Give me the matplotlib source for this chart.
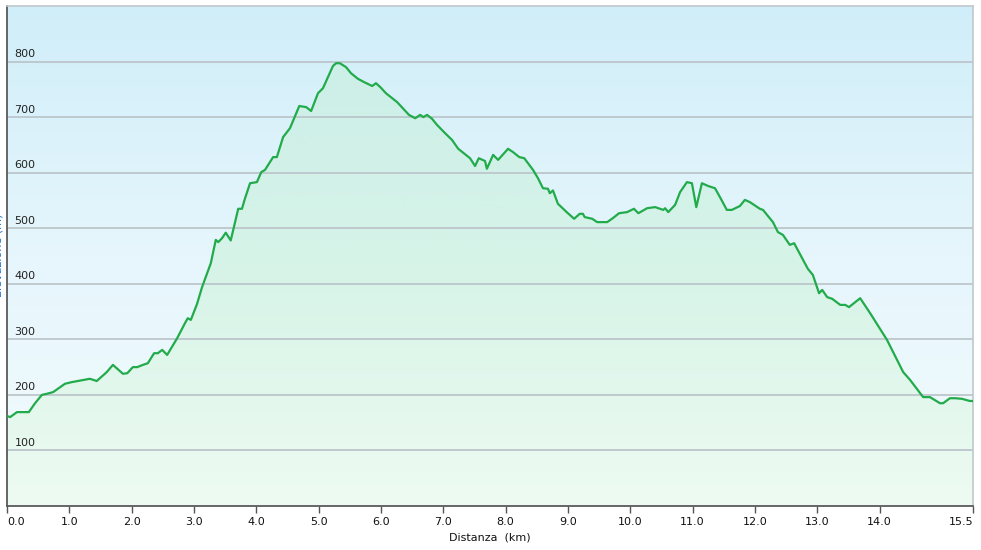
import numpy as np
import matplotlib.pyplot as plt
from matplotlib.colors import LinearSegmentedColormap

km = [0.00, 0.05, 0.16, 0.35, 0.45, 0.56, 0.64, 0.74, 0.93, 1.04, 1.14, 1.33, 1.44,
      1.60, 1.70, 1.86, 1.93, 2.02, 2.09, 2.18, 2.26, 2.36, 2.42, 2.49, 2.57, 2.73,
      2.86, 2.90, 2.95, 3.05, 3.13, 3.23, 3.27, 3.35, 3.39, 3.45, 3.51, 3.59, 3.71,
      3.77, 3.82, 3.90, 4.01, 4.08, 4.14, 4.27, 4.33, 4.43, 4.54, 4.69, 4.80, 4.88,
      4.99, 5.07, 5.23, 5.28, 5.34, 5.44, 5.52, 5.63, 5.73, 5.86, 5.92, 5.99, 6.08,
      6.26, 6.45, 6.55, 6.63, 6.68, 6.74, 6.82, 6.90, 7.03, 7.14, 7.24, 7.43, 7.51,
      7.57, 7.67, 7.70, 7.80, 7.88, 8.04, 8.12, 8.22, 8.30, 8.44, 8.52, 8.60, 8.68,
      8.71, 8.76, 8.84, 8.99, 9.10, 9.19, 9.24, 9.27, 9.39, 9.47, 9.63, 9.72, 9.82,
      9.95, 10.06, 10.13, 10.27, 10.40, 10.48, 10.53, 10.56, 10.61, 10.72, 10.80,
      10.91, 10.99, 11.06, 11.15, 11.25, 11.36, 11.44, 11.55, 11.63, 11.76, 11.84,
      11.92, 12.08, 12.13, 12.24, 12.29, 12.37, 12.45, 12.56, 12.63, 12.76, 12.85,
      12.93, 13.03, 13.08, 13.16, 13.24, 13.37, 13.45, 13.51, 13.69, 13.85, 14.12,
      14.38, 14.49, 14.70, 14.81, 14.97, 15.02, 15.13, 15.21, 15.32, 15.45, 15.50]
quota = [162, 160, 169, 169, 185, 200, 202, 205, 220, 223, 225, 229, 225,
         241, 254, 238, 239, 250, 250, 254, 257, 275, 275, 281, 272, 302,
         330, 338, 335, 364, 394, 425, 437, 479, 475, 482, 492, 478, 535,
         535, 554, 581, 583, 601, 605, 628, 628, 664, 680, 720, 718, 711,
         743, 752, 792, 797, 797, 790, 779, 769, 763, 756, 761, 754, 743,
         727, 704, 698, 704, 700, 704, 697, 686, 671, 659, 643, 626, 612,
         626, 621, 607, 632, 623, 643, 637, 628, 626, 605, 590, 572, 571,
         563, 568, 544, 528, 517, 526, 526, 520, 517, 511, 511, 518, 527,
         529, 535, 527, 536, 538, 535, 533, 536, 529, 542, 565,
         583, 581, 538, 581, 576, 572, 556, 533, 533, 540, 551,
         547, 535, 533, 518, 511, 493, 488, 470, 473, 446, 427,
         416, 383, 389, 376, 373, 362, 362, 358, 374, 347, 299,
         241, 227, 196, 196, 185, 185, 194, 194, 193, 189, 189]

xticks = [0, 1, 2, 3, 4, 5, 6, 7, 8, 9, 10, 11, 12, 13, 14, 15.5]
yticks = [100, 200, 300, 400, 500, 600, 700, 800]

fig = plt.figure(figsize=(9.81, 5.5), dpi=100)
ax = fig.add_axes([7 / 981, 44 / 550, 966 / 981, 500 / 550])
ax.set_xlim(0, 15.5)
ax.set_ylim(0, 900)

# sfondo sfumato azzurro -> bianco
bg = LinearSegmentedColormap.from_list('bg', ['#f2fbfd', '#e6f6fc', '#d0eef9'])
grad = np.linspace(0, 1, 256).reshape(-1, 1)
ax.imshow(grad, cmap=bg, origin='lower', aspect='auto',
          extent=[0, 15.5, 0, 900], zorder=0)

# riempimento verde sotto il profilo
area = ax.fill_between(km, quota, 0, color='none', zorder=1)
fillmap = LinearSegmentedColormap.from_list('fill', ['#eefbf2', '#d8f4e8', '#ccefe8'])
im = ax.imshow(grad, cmap=fillmap, origin='lower', aspect='auto',
               extent=[0, 15.5, 0, 800], zorder=1)
im.set_clip_path(area.get_paths()[0], transform=ax.transData)

for y in yticks:
    ax.axhline(y, color='#bcc6cb', lw=1.3, zorder=2)
    ax.text(0.12, y + 8, str(y), fontsize=8, color='#222222', zorder=3)

ax.plot(km, quota, color='#22ab4b', lw=1.6, zorder=4)

ax.set_yticks([])
ax.set_xticks(xticks)
labels = ax.set_xticklabels([f'{t:.1f}' for t in xticks], fontsize=8, color='#111111')
labels[0].set_ha('left')
labels[-1].set_ha('right')
ax.tick_params(axis='x', length=5, width=1, color='#555555', pad=3)

for s in ['left', 'bottom']:
    ax.spines[s].set_color('#5a5a5a')
    ax.spines[s].set_linewidth(1.3)
for s in ['top', 'right']:
    ax.spines[s].set_color('#c0c8cc')
    ax.spines[s].set_linewidth(1.2)

ax.set_xlabel('Distanza  (km)', fontsize=8, color='#111111', labelpad=4)
# etichetta asse y, tagliata dal bordo come nell'originale
fig.text(-0.002, 0.535, 'Elevazione (m)', rotation=90, fontsize=8,
         color='#1a6fc4', ha='center', va='center')

fig.savefig('out.png', dpi=100)
